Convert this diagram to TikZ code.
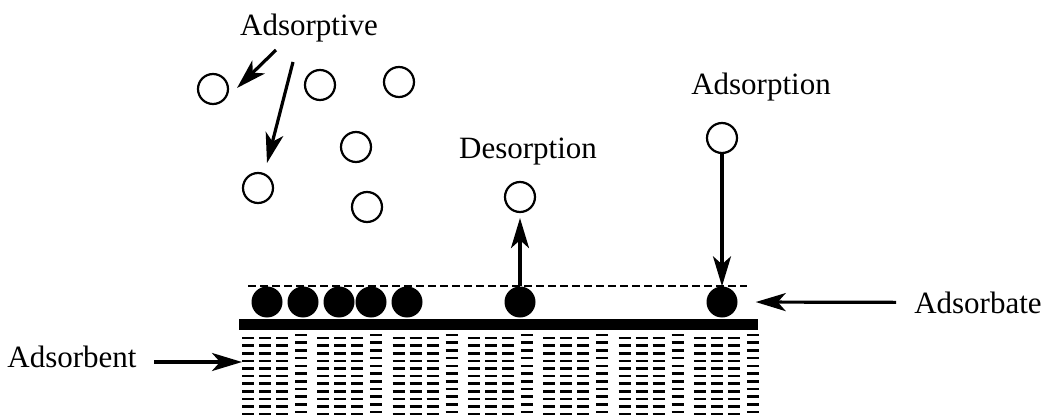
\documentclass[tikz,border=0pt]{standalone}
\usepackage{fontspec}
\setmainfont{Liberation Serif}
\usetikzlibrary{arrows.meta}
\begin{document}
\begin{tikzpicture}[x=1pt,y=-1pt]
\tikzstyle{mythin}=[line width=2.2pt];
\tikzstyle{gas}=[draw=black,circle,mythin,inner sep=0pt,minimum size=30pt]
\tikzstyle{sat}=[fill=black,circle,inner sep=0pt,minimum size=31pt]
\tikzstyle{lbl}=[font=\fontsize{31}{36}\selectfont,inner sep=0pt,anchor=base]
\tikzstyle{arr}=[line width=3.2pt,-{Stealth[length=30pt,width=18pt,inset=8pt]}]
\tikzstyle{dsh}=[line width=2.6pt]
\useasboundingbox (0,0) rectangle (1047,417);
\node [lbl] (l1) at (309,36) {Adsorptive};
\node [lbl] (l2) at (528,159) {Desorption};
\node [lbl] (l3) at (761,95) {Adsorption};
\node [lbl] (l4) at (978,313) {Adsorbate};
\node [lbl] (l5) at (72,367) {Adsorbent};
\node [gas] (o1) at (213,89) {};
\node [gas] (o2) at (320,85) {};
\node [gas] (o3) at (399,82) {};
\node [gas] (o4) at (356,147) {};
\node [gas] (o5) at (258,188) {};
\node [gas] (o6) at (367,207) {};
\node [gas] (o7) at (520,197) {};
\node [gas] (o8) at (722,138) {};
\node [sat] (b1) at (267,302) {};
\node [sat] (b2) at (303,302) {};
\node [sat] (b3) at (339,302) {};
\node [sat] (b4) at (371,302) {};
\node [sat] (b5) at (407,302) {};
\node [sat] (b6) at (520,302) {};
\node [sat] (b7) at (722,302) {};
% surface
\draw [dashed,dash pattern=on 8pt off 4pt,line width=1.6pt] (248,286) -- (747,286);
\fill (239,319) rectangle (758,330);
\foreach \g in {0,...,6} {
  \foreach \c in {0,17,34}
    \foreach \j in {0,...,10}
      \draw [dsh] (242+75.3*\g+\c,338+7.6*\j) -- ++(12,0);
  \foreach \j in {0,...,10}
    \draw [dsh] (295+75.3*\g,335+7.7*\j) -- ++(12,0);
}
% arrows
\coordinate (s1) at (276,50);
\coordinate (e1) at (237,88);
\coordinate (s2) at (293,62);
\coordinate (e2) at (267,163);
\coordinate (s5) at (154,362);
\coordinate (e5) at (242,362);
\draw [arr] (s1) -- (e1);
\draw [arr] (s2) -- (e2);
\draw [arr,shorten >=5pt] (b6) -- (o7);
\draw [arr] (o8) -- (b7);
\draw [arr,shorten <=18pt,shorten >=18pt] (l4.west) -- (b7.east);
\draw [arr] (s5) -- (e5);
\end{tikzpicture}
\end{document}
